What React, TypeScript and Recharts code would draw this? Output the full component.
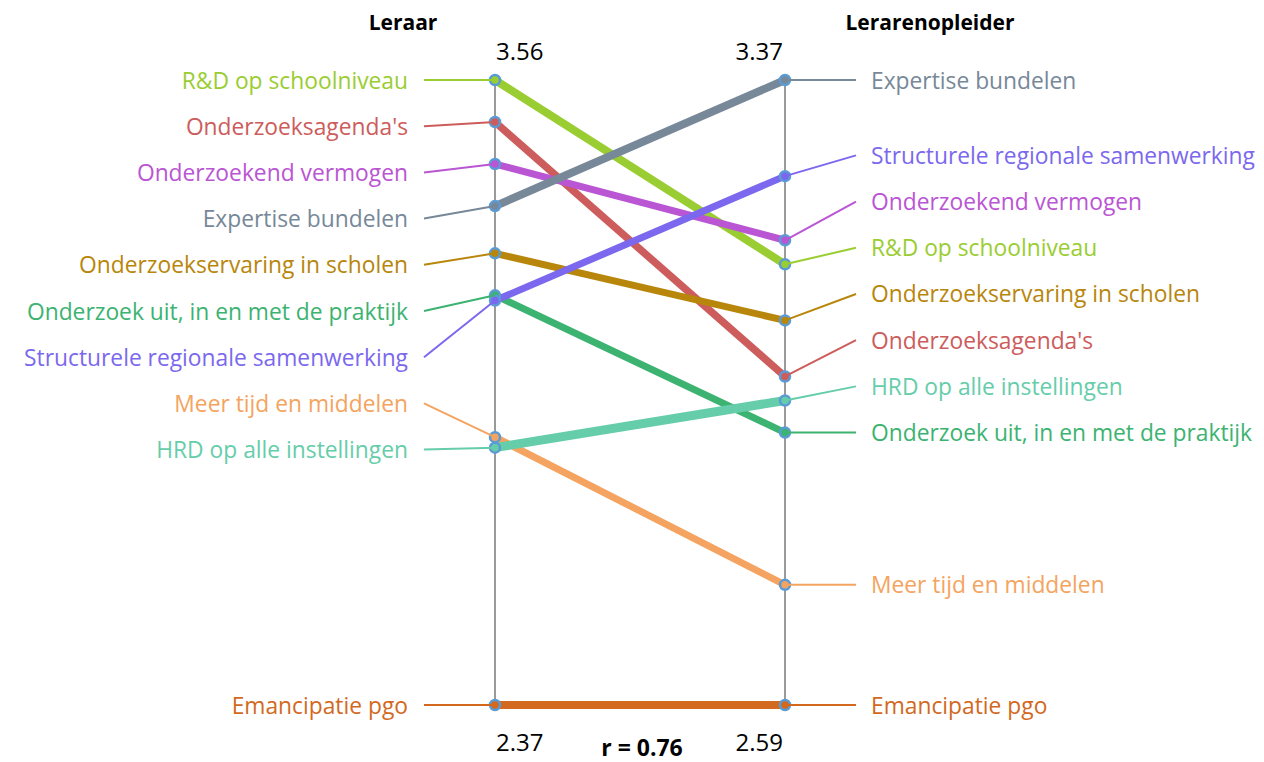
import React from 'react';
import { LineChart, Line, XAxis, YAxis, ReferenceLine, LabelList } from 'recharts';

const SERIES = [
  'R&D op schoolniveau',
  "Onderzoeksagenda's",
  'Onderzoekend vermogen',
  'Expertise bundelen',
  'Onderzoekservaring in scholen',
  'Onderzoek uit, in en met de praktijk',
  'Structurele regionale samenwerking',
  'Meer tijd en middelen',
  'HRD op alle instellingen',
  'Emancipatie pgo',
];
const LERAAR = [3.56, 3.48, 3.4, 3.32, 3.23, 3.15, 3.14, 2.88, 2.86, 2.37];
const OPLEIDER = [3.14, 3.0, 3.17, 3.37, 3.07, 2.93, 3.25, 2.74, 2.97, 2.59];
const COLORS = [
  '#9acd32', '#cd5c5c', '#ba55d3', '#778899', '#b8860b',
  '#3cb371', '#7b68ee', '#f4a460', '#66cdaa', '#d2691e',
];
const WIDTHS = [8, 7.5, 7, 8, 7, 7, 7, 7, 9, 8];
const SIDES = ['Leraar', 'Lerarenopleider'];
const LEFT_RANGE = [2.37, 3.56];
const RIGHT_RANGE = [2.59, 3.37];
const R_VALUE = 0.76;

const W = 1264;
const H = 762;
const M = { top: 80, right: 479, bottom: 57, left: 495 };
const PLOT_H = H - M.top - M.bottom;
const GAP = 46.2;
const FONT = '"Open Sans", sans-serif';

const norm = (v: number, r: number[]) => (v - r[0]) / (r[1] - r[0]);

// pixel y of each point, then spread the labels so they don't overlap
function spread(vals: number[], r: number[]) {
  const ys = vals.map((v) => M.top + (1 - norm(v, r)) * PLOT_H);
  const order = ys.map((y, i) => i).sort((a, b) => ys[a] - ys[b]);
  const pos = order.map((i) => ys[i]);
  for (let k = pos.length - 2; k >= 0; k--) pos[k] = Math.min(pos[k], pos[k + 1] - GAP);
  pos[0] = Math.max(pos[0], M.top);
  for (let k = 1; k < pos.length; k++) pos[k] = Math.max(pos[k], pos[k - 1] + GAP);
  const out: number[] = [];
  order.forEach((i, k) => (out[i] = pos[k]));
  return out;
}

const leftLabelY = spread(LERAAR, LEFT_RANGE);
const rightLabelY = spread(OPLEIDER, RIGHT_RANGE);

const data = [0, 1].map((side) => {
  const row: Record<string, number> = { side };
  SERIES.forEach((s, i) => {
    row[s] = side === 0 ? norm(LERAAR[i], LEFT_RANGE) : norm(OPLEIDER[i], RIGHT_RANGE);
  });
  return row;
});

function seriesLabel(i: number) {
  return (props: any) => {
    const x = props.x ?? props.viewBox?.x;
    const y = props.y ?? props.viewBox?.y;
    const left = props.index === 0;
    const ly = left ? leftLabelY[i] : rightLabelY[i];
    const x1 = left ? x - 71 : x + 71;
    const tx = left ? x - 87 : x + 86;
    return (
      <g>
        <line x1={x1} y1={ly} x2={x} y2={y} stroke={COLORS[i]} strokeWidth={2} />
        <text
          x={tx}
          y={ly}
          fill={COLORS[i]}
          fontSize={22.8}
          fontFamily={FONT}
          textAnchor={left ? 'end' : 'start'}
          dominantBaseline="central"
        >
          {SERIES[i]}
        </text>
      </g>
    );
  };
}

function axisLabel(title: string, top: number, bottom: number, left: boolean) {
  return (props: any) => {
    const { x, y, height } = props.viewBox;
    const nx = left ? x + 1 : x - 2;
    const anchor = left ? 'start' : 'end';
    return (
      <g fontFamily={FONT} fill="#000">
        <text x={left ? x - 92 : x + 145} y={y - 58} fontSize={21} fontWeight="bold" textAnchor="middle" dominantBaseline="central">
          {title}
        </text>
        <text x={nx} y={y - 30} fontSize={24} textAnchor={anchor} dominantBaseline="central">
          {top.toFixed(2)}
        </text>
        <text x={nx} y={y + height + 36} fontSize={24} textAnchor={anchor} dominantBaseline="central">
          {bottom.toFixed(2)}
        </text>
      </g>
    );
  };
}

function rLabel(props: any) {
  const { x, y, height } = props.viewBox;
  return (
    <text
      x={x + 2}
      y={y + height + 42}
      fontSize={23}
      fontWeight="bold"
      fontFamily={FONT}
      textAnchor="middle"
      dominantBaseline="central"
    >
      {`r = ${R_VALUE.toFixed(2)}`}
    </text>
  );
}

export default function App() {
  return (
    <div style={{ position: 'absolute', left: 0, top: 0, width: W, height: H }}>
      <LineChart width={W} height={H} data={data} margin={M}>
        <XAxis dataKey="side" type="number" domain={[0, 1]} hide />
        <YAxis type="number" domain={[0, 1]} hide />
        <ReferenceLine x={0} stroke="#9a9a9a" strokeWidth={2} label={axisLabel(SIDES[0], LEFT_RANGE[1], LEFT_RANGE[0], true)} />
        <ReferenceLine x={1} stroke="#9a9a9a" strokeWidth={2} label={axisLabel(SIDES[1], RIGHT_RANGE[1], RIGHT_RANGE[0], false)} />
        <ReferenceLine x={0.5} strokeOpacity={0} label={rLabel} />
        {SERIES.map((s, i) => (
          <Line
            key={s}
            dataKey={s}
            type="linear"
            stroke={COLORS[i]}
            strokeWidth={WIDTHS[i]}
            dot={{ r: 5, fill: COLORS[i], stroke: '#5b9bd5', strokeWidth: 2.5 }}
            isAnimationActive={false}
          >
            <LabelList dataKey={s} content={seriesLabel(i)} />
          </Line>
        ))}
      </LineChart>
    </div>
  );
}
